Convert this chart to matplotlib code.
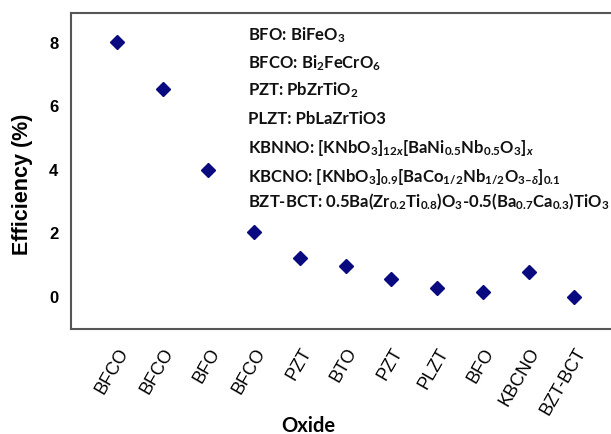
import matplotlib
matplotlib.use('Agg')
import matplotlib.pyplot as plt
from matplotlib.transforms import ScaledTranslation

plt.rcParams['mathtext.fontset'] = 'custom'
plt.rcParams['mathtext.rm'] = 'Lato:bold'
plt.rcParams['mathtext.it'] = 'Lato:bold:italic'
plt.rcParams['mathtext.bf'] = 'Lato:bold'

# data
oxides = ['BFCO', 'BFCO', 'BFO', 'BFCO', 'PZT', 'BTO', 'PZT', 'PLZT', 'BFO', 'KBCNO', 'BZT-BCT']
efficiency = [8.0, 6.5, 3.95, 2.0, 1.2, 0.95, 0.53, 0.25, 0.13, 0.75, -0.03]

legend_lines = [
    r'BFO: BiFeO$_{3}$',
    r'BFCO: Bi$_{2}$FeCrO$_{6}$',
    r'PZT: PbZrTiO$_{2}$',
    r'PLZT: PbLaZrTiO3',
    r'KBNNO: [KNbO$_{3}$]$_{12x}$[BaNi$_{0.5}$Nb$_{0.5}$O$_{3}$]$_{x}$',
    r'KBCNO: [KNbO$_{3}$]$_{0.9}$[BaCo$_{1/2}$Nb$_{1/2}$O$_{3' + '\u2013' + r'\delta}$]$_{0.1}$',
    r'BZT-BCT: 0.5Ba(Zr$_{0.2}$Ti$_{0.8}$)O$_{3}$-0.5(Ba$_{0.7}$Ca$_{0.3}$)TiO$_{3}$',
]
legend_y = [35, 63, 90, 119, 148, 177, 202]  # pixel rows of the note lines

fig = plt.figure(figsize=(6.11, 4.35), dpi=100)
ax = fig.add_axes([0.1162, 0.2414, 0.8838, 0.7264])

x = list(range(len(oxides)))
ax.plot(x, efficiency, linestyle='none', marker='D', markersize=6.8,
        color='#0a0a80')

ax.set_xlim(-1.0, 10.8)
ax.set_ylim(-1.04, 8.9)
ax.set_yticks([0, 2, 4, 6, 8])
ax.set_xticks(x)
ax.set_xticklabels(oxides, rotation=60, ha='right', rotation_mode='anchor',
                   family='Liberation Sans', fontsize=13)
shift = ScaledTranslation(-5 / 100, 0, fig.dpi_scale_trans)
for lab in ax.get_xticklabels():
    lab.set_transform(lab.get_transform() + shift)
for lab in ax.get_yticklabels():
    lab.set_family('Liberation Sans')
    lab.set_fontweight('bold')
    lab.set_fontsize(12)
ax.tick_params(axis='both', length=0)
ax.tick_params(axis='y', pad=9)
ax.tick_params(axis='x', pad=11)

for side in ['left', 'top', 'bottom']:
    ax.spines[side].set_color('#555555')
    ax.spines[side].set_linewidth(1.5)
ax.spines['right'].set_visible(False)

ax.set_ylabel('Efficiency (%)', family='Liberation Sans', fontweight='bold',
              fontsize=15.5)
ax.yaxis.set_label_coords(-0.071, 0.46)
fig.text(308 / 611, 1 - 432 / 435, 'Oxide', family='Lato', fontweight='bold',
         fontsize=14.5, ha='center', va='baseline')

for line, py in zip(legend_lines, legend_y):
    fig.text(248 / 611, 1 - py / 435, line, family='Lato', fontweight='bold',
             fontsize=12, ha='left', va='center', color='#111111')

fig.savefig('out.png', dpi=100)
